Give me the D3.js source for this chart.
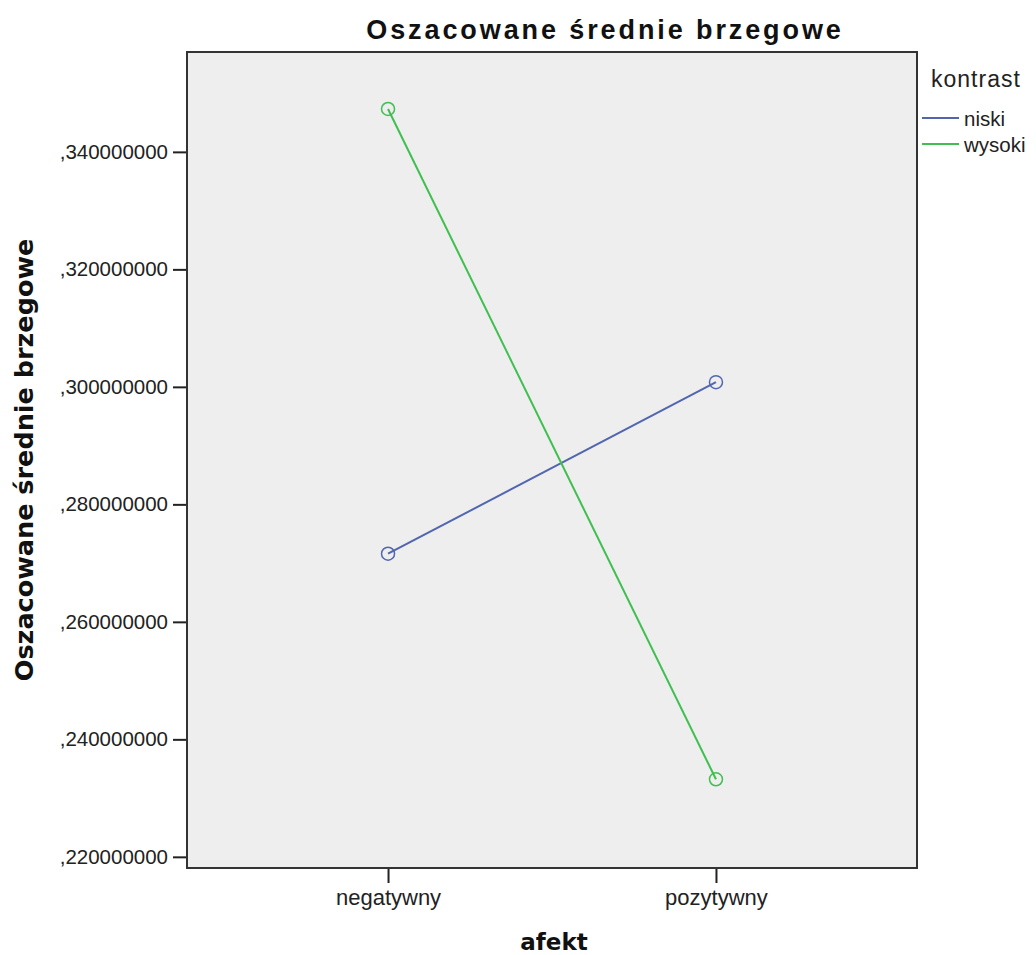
<!DOCTYPE html>
<html>
<head>
<meta charset="utf-8">
<script src="https://cdn.jsdelivr.net/npm/d3@7"></script>
<style>
body { margin: 0; background: #fff; }
</style>
</head>
<body>
<div id="chart"></div>
<script>
var categories = ["negatywny", "pozytywny"];
var seriesNames = ["niski", "wysoki"];
var niskiValues = [0.2716, 0.3008];
var wysokiValues = [0.3473, 0.2332];
var yTicks = [0.22, 0.24, 0.26, 0.28, 0.30, 0.32, 0.34];
var colors = ["#5266b0", "#3fbf4f"];

var width = 1036, height = 955;
var plot = { left: 187, right: 917, top: 52, bottom: 868 };
var sans = "Liberation Sans, Arial, sans-serif";
var boldSans = "DejaVu Sans, Verdana, sans-serif";

var svg = d3.select("#chart")
    .append("svg")
    .attr("width", width)
    .attr("height", height);

var x = d3.scalePoint()
    .domain(categories)
    .range([plot.left, plot.right])
    .padding(0.613);

var y = d3.scaleLinear()
    .domain([0.2181, 0.357])
    .range([plot.bottom, plot.top]);

// plot background
svg.append("rect")
    .attr("x", plot.left)
    .attr("y", plot.top)
    .attr("width", plot.right - plot.left)
    .attr("height", plot.bottom - plot.top)
    .attr("fill", "#eeeeee")
    .attr("stroke", "#333")
    .attr("stroke-width", 2);

// axes
var yAxis = d3.axisLeft(y)
    .tickValues(yTicks)
    .tickSize(13)
    .tickPadding(5)
    .tickFormat(function(d) { return "," + d3.format(".9f")(d).split(".")[1]; });

var gy = svg.append("g")
    .attr("transform", "translate(" + (plot.left - 1) + ",0)")
    .call(yAxis);
gy.select(".domain").remove();
gy.selectAll("line").attr("stroke", "#222").attr("stroke-width", 2);
gy.selectAll("text")
    .attr("font-family", sans)
    .attr("font-size", 20.5)
    .attr("fill", "#222");

var xAxis = d3.axisBottom(x)
    .tickSize(14)
    .tickPadding(6);

var gx = svg.append("g")
    .attr("transform", "translate(0," + (plot.bottom + 1) + ")")
    .call(xAxis);
gx.select(".domain").remove();
gx.selectAll("line").attr("stroke", "#222").attr("stroke-width", 2);
gx.selectAll("text")
    .attr("font-family", sans)
    .attr("font-size", 22)
    .attr("fill", "#222");

// series
var series = [
    { name: seriesNames[0], values: niskiValues, color: colors[0] },
    { name: seriesNames[1], values: wysokiValues, color: colors[1] }
];

var line = d3.line()
    .x(function(d, i) { return x(categories[i]); })
    .y(function(d) { return y(d); });

series.forEach(function(s) {
    svg.append("path")
        .attr("d", line(s.values))
        .attr("fill", "none")
        .attr("stroke", s.color)
        .attr("stroke-width", 2);

    svg.selectAll(null)
        .data(s.values)
        .enter()
        .append("circle")
        .attr("cx", function(d, i) { return x(categories[i]); })
        .attr("cy", function(d) { return y(d); })
        .attr("r", 6.5)
        .attr("fill", "none")
        .attr("stroke", s.color)
        .attr("stroke-width", 1.5);
});

// titles
svg.append("text")
    .attr("x", 605)
    .attr("y", 39)
    .attr("text-anchor", "middle")
    .attr("font-family", sans)
    .attr("font-weight", "bold")
    .attr("font-size", 27)
    .attr("letter-spacing", 2.9)
    .attr("fill", "#111")
    .text("Oszacowane średnie brzegowe");

svg.append("text")
    .attr("x", 554)
    .attr("y", 950)
    .attr("text-anchor", "middle")
    .attr("font-family", boldSans)
    .attr("font-weight", "bold")
    .attr("font-size", 23)
    .attr("fill", "#111")
    .text("afekt");

svg.append("text")
    .attr("transform", "translate(33,460) rotate(-90)")
    .attr("text-anchor", "middle")
    .attr("font-family", boldSans)
    .attr("font-weight", "bold")
    .attr("font-size", 25.5)
    .attr("fill", "#111")
    .text("Oszacowane średnie brzegowe");

// legend
var legend = svg.append("g");
legend.append("text")
    .attr("x", 931)
    .attr("y", 87)
    .attr("font-family", sans)
    .attr("font-size", 23)
    .attr("letter-spacing", 1)
    .attr("fill", "#222")
    .text("kontrast");

var items = legend.selectAll("g.item")
    .data(series)
    .enter()
    .append("g")
    .attr("class", "item")
    .attr("transform", function(d, i) { return "translate(922," + (118 + i * 26) + ")"; });
items.append("line")
    .attr("x1", 0).attr("x2", 37)
    .attr("stroke", function(d) { return d.color; })
    .attr("stroke-width", 2);
items.append("text")
    .attr("x", 42)
    .attr("y", 8)
    .attr("font-family", sans)
    .attr("font-size", 20.5)
    .attr("fill", "#222")
    .text(function(d) { return d.name; });
</script>
</body>
</html>
